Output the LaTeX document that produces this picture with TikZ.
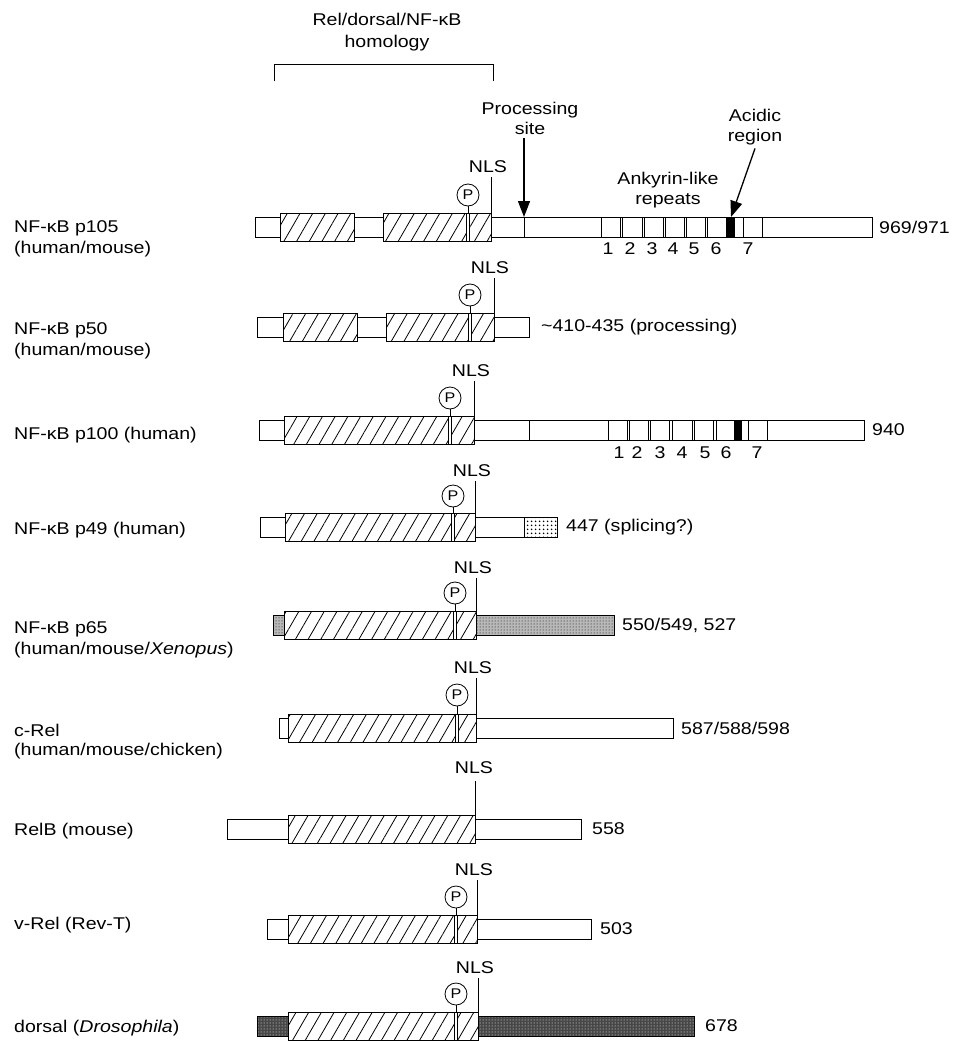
\documentclass[tikz,border=0pt]{standalone}
\usepackage{fontspec}
\setmainfont{Liberation Sans}[FakeStretch=1.15]
\usetikzlibrary{positioning,arrows.meta,patterns.meta}
\tikzset{
  lbl/.style={anchor=west, inner sep=0pt},
  endnum/.style={anchor=west, inner sep=0pt},
  nlslbl/.style={inner sep=1pt},
  pcirc/.style={circle, draw, line width=0.8pt, minimum size=22pt, inner sep=0pt,
    font=\fontsize{14}{14}\selectfont},
  bar/.style={draw, line width=1pt, fill=white},
  hatchbox/.style={draw, line width=1pt, preaction={fill=white},
    pattern={Lines[angle=60,distance=11pt,line width=0.8pt]}},
  pstrip/.style={draw, line width=0.6pt, fill=white},
  lightstip/.style={draw, line width=1pt, preaction={fill=black!28},
    pattern={Dots[distance=3pt,radius=0.5pt]}},
  spotbox/.style={draw, line width=1pt, preaction={fill=white},
    pattern={Dots[distance=4pt,radius=1pt]}},
  darkstip/.style={draw, line width=1pt, preaction={fill=black!72},
    pattern={Dots[distance=3pt,radius=0.5pt]}, pattern color=white},
  conn/.style={line width=0.9pt},
  arr/.style={-{Triangle[length=16pt,width=12pt]}, line width=1.3pt},
}

\begin{document}
\begin{tikzpicture}[x=1pt, y=-1pt, font=\fontsize{17}{20}\selectfont]
  \useasboundingbox (0,0) rectangle (955,1041);

  % homology bracket
  \node[align=center, font=\fontsize{17}{22}\selectfont] (hom) at (387,32) {Rel/dorsal/NF-κB\\homology};
  \draw[conn] (274,81) -- (274,64) -- (493,64) -- (493,81);

  % p105
  \node[lbl] (l105) at (14,228) {NF-κB p105};
  \node[lbl] (l105b) at (14,249) {(human/mouse)};
  \draw[bar] (255,217) rectangle (872,237);
  \draw[conn] (524,217) -- (524,237);
  \draw[bar] (601,217) rectangle (620,237);
  \draw[bar] (622,217) rectangle (642,237);
  \draw[bar] (644,217) rectangle (663,237);
  \draw[bar] (665,217) rectangle (684,237);
  \draw[bar] (686,217) rectangle (705,237);
  \draw[bar] (707,217) rectangle (726,237);
  \draw[fill=black] (727,217) rectangle (734,237);
  \draw[bar] (734,217) rectangle (743,237);
  \draw[bar] (743,217) rectangle (762,237);
  \draw[hatchbox] (280,213) rectangle (354,241);
  \draw[hatchbox] (383,213) rectangle (491,241);
  \draw[pstrip] (466.5,213) rectangle (469.5,241);
  \node[nlslbl] (nls105) at (488,167) {NLS};
  \coordinate (c105) at (491,213);
  \draw[conn, shorten <=3pt] (nls105.south -| c105) -- (c105);
  \node[pcirc] (p105) at (468,195) {P};
  \draw[conn] (p105.south) -- (p105.south |- c105);
  \node[endnum] (e105) at (879,227) {969/971};
  \node (a1) at (608,249) {1}; \node (a2) at (630,249) {2}; \node (a3) at (652,249) {3};
  \node (a4) at (673,249) {4}; \node (a5) at (694,249) {5}; \node (a6) at (716,249) {6};
  \node (a7) at (748,249) {7};
  \node[align=center] (ank) at (668,190) {Ankyrin-like\\repeats};

  % processing site, acidic region
  \node[align=center] (proc) at (530,118) {Processing\\site};
  \coordinate (procTip) at (524,217);
  \draw[arr] (proc.south -| procTip) -- (procTip);
  \node[align=center] (acid) at (755,127) {Acidic\\region};
  \coordinate (acidTip) at (731,217);
  \draw[arr] (acid.south) -- (acidTip);

  % p50
  \node[lbl] (l50) at (14,330) {NF-κB p50};
  \node[lbl] (l50b) at (14,351) {(human/mouse)};
  \draw[bar] (257,317) rectangle (529,337);
  \draw[hatchbox] (283,313) rectangle (357,341);
  \draw[hatchbox] (386,313) rectangle (494,341);
  \draw[pstrip] (468.5,313) rectangle (471.5,341);
  \node[nlslbl] (nls50) at (490,268) {NLS};
  \coordinate (c50) at (494,313);
  \draw[conn, shorten <=3pt] (nls50.south -| c50) -- (c50);
  \node[pcirc] (p50) at (470,295) {P};
  \draw[conn] (p50.south) -- (p50.south |- c50);
  \node[endnum] (e50) at (541,327) {\textasciitilde 410-435 (processing)};

  % p100
  \node[lbl] (l100) at (14,435) {NF-κB p100 (human)};
  \draw[bar] (259,420) rectangle (864,440);
  \draw[conn] (529,420) -- (529,440);
  \draw[bar] (608,420) rectangle (627,440);
  \draw[bar] (629,420) rectangle (648,440);
  \draw[bar] (650,420) rectangle (669,440);
  \draw[bar] (672,420) rectangle (692,440);
  \draw[bar] (694,420) rectangle (713,440);
  \draw[bar] (716,420) rectangle (734,440);
  \draw[fill=black] (735,420) rectangle (741,440);
  \draw[bar] (741,420) rectangle (748,440);
  \draw[bar] (748,420) rectangle (767,440);
  \draw[hatchbox] (284,416) rectangle (474,444);
  \draw[pstrip] (448.5,416) rectangle (451.5,444);
  \node[nlslbl] (nls100) at (471,371) {NLS};
  \coordinate (c100) at (474,416);
  \draw[conn, shorten <=3pt] (nls100.south -| c100) -- (c100);
  \node[pcirc] (p100) at (450,398) {P};
  \draw[conn] (p100.south) -- (p100.south |- c100);
  \node[endnum] (e100) at (872,430) {940};
  \node (b1) at (619,453) {1}; \node (b2) at (637,453) {2}; \node (b3) at (660,453) {3};
  \node (b4) at (682,453) {4}; \node (b5) at (705,453) {5}; \node (b6) at (726,453) {6};
  \node (b7) at (757,453) {7};

  % p49
  \node[lbl] (l49) at (14,530) {NF-κB p49 (human)};
  \draw[bar] (260,517) rectangle (524,537);
  \draw[spotbox] (524,517) rectangle (557,537);
  \draw[hatchbox] (285,513) rectangle (475,541);
  \draw[pstrip] (451.5,513) rectangle (454.5,541);
  \node[nlslbl] (nls49) at (472,471) {NLS};
  \coordinate (c49) at (475,513);
  \draw[conn, shorten <=3pt] (nls49.south -| c49) -- (c49);
  \node[pcirc] (p49) at (453,496) {P};
  \draw[conn] (p49.south) -- (p49.south |- c49);
  \node[endnum] (e49) at (566,527) {447 (splicing?)};

  % p65
  \node[lbl] (l65) at (14,629) {NF-κB p65};
  \node[lbl] (l65b) at (14,650) {(human/mouse/\textit{Xenopus})};
  \draw[lightstip] (273,615) rectangle (284,635);
  \draw[lightstip] (476,615) rectangle (614,635);
  \draw[hatchbox] (284,611) rectangle (476,639);
  \draw[pstrip] (453.5,611) rectangle (456.5,639);
  \node[nlslbl] (nls65) at (473,568) {NLS};
  \coordinate (c65) at (476,611);
  \draw[conn, shorten <=3pt] (nls65.south -| c65) -- (c65);
  \node[pcirc] (p65) at (455,593) {P};
  \draw[conn] (p65.south) -- (p65.south |- c65);
  \node[endnum] (e65) at (622,625) {550/549, 527};

  % c-Rel
  \node[lbl] (lcrel) at (14,730) {c-Rel};
  \node[lbl] (lcrelb) at (14,751) {(human/mouse/chicken)};
  \draw[bar] (279,718) rectangle (673,738);
  \draw[hatchbox] (288,714) rectangle (476,742);
  \draw[pstrip] (455.5,714) rectangle (458.5,742);
  \node[nlslbl] (nlscrel) at (473,668) {NLS};
  \coordinate (ccrel) at (476,714);
  \draw[conn, shorten <=3pt] (nlscrel.south -| ccrel) -- (ccrel);
  \node[pcirc] (pcrel) at (457,695) {P};
  \draw[conn] (pcrel.south) -- (pcrel.south |- ccrel);
  \node[endnum] (ecrel) at (681,728) {587/588/598};

  % RelB
  \node[lbl] (lrelb) at (14,831) {RelB (mouse)};
  \draw[bar] (227,819) rectangle (581,839);
  \draw[hatchbox] (288,815) rectangle (475,843);
  \node[nlslbl] (nlsrelb) at (474,768) {NLS};
  \coordinate (crelb) at (475,815);
  \draw[conn, shorten <=6pt] (nlsrelb.south -| crelb) -- (crelb);
  \node[endnum] (erelb) at (592,829) {558};

  % v-Rel
  \node[lbl] (lvrel) at (14,925) {v-Rel (Rev-T)};
  \draw[bar] (267,919) rectangle (591,939);
  \draw[hatchbox] (288,915) rectangle (477,943);
  \draw[pstrip] (454.5,915) rectangle (457.5,943);
  \node[nlslbl] (nlsvrel) at (474,870) {NLS};
  \coordinate (cvrel) at (477,915);
  \draw[conn, shorten <=3pt] (nlsvrel.south -| cvrel) -- (cvrel);
  \node[pcirc] (pvrel) at (456,897) {P};
  \draw[conn] (pvrel.south) -- (pvrel.south |- cvrel);
  \node[endnum] (evrel) at (600,929) {503};

  % dorsal
  \node[lbl] (ldors) at (14,1028) {dorsal (\textit{Drosophila})};
  \draw[darkstip] (257,1016) rectangle (288,1036);
  \draw[darkstip] (478,1016) rectangle (694,1036);
  \draw[hatchbox] (288,1012) rectangle (478,1040);
  \draw[pstrip] (454.5,1012) rectangle (457.5,1040);
  \node[nlslbl] (nlsdors) at (475,968) {NLS};
  \coordinate (cdors) at (478,1012);
  \draw[conn, shorten <=3pt] (nlsdors.south -| cdors) -- (cdors);
  \node[pcirc] (pdors) at (456,994) {P};
  \draw[conn] (pdors.south) -- (pdors.south |- cdors);
  \node[endnum] (edors) at (705,1026) {678};
\end{tikzpicture}
\end{document}
